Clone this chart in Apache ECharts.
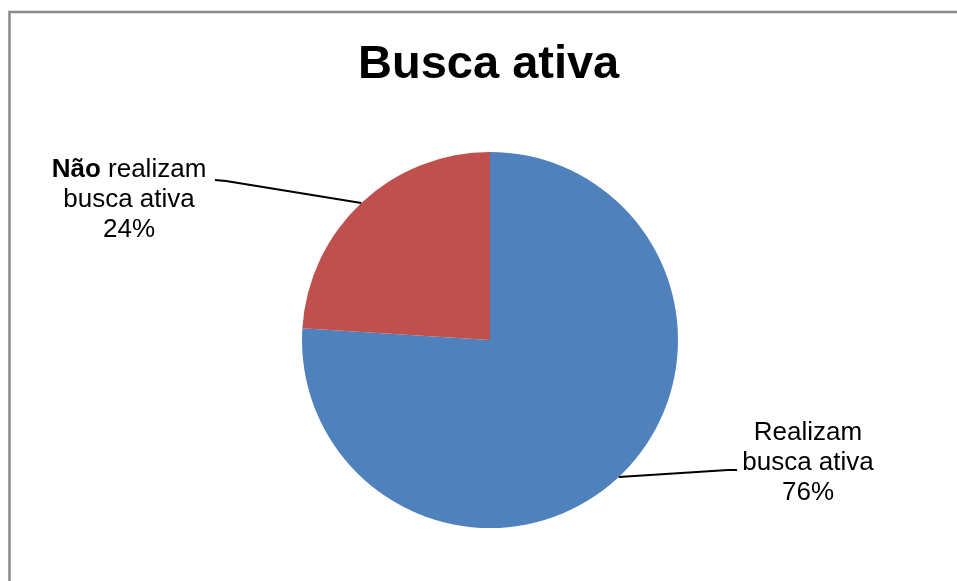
<!DOCTYPE html>
<html>
<head>
<meta charset="utf-8">
<script src="https://cdn.jsdelivr.net/npm/echarts@6/dist/echarts.min.js"></script>
<style>
html,body{margin:0;padding:0;background:#fff;}
#chart{width:957px;height:581px;}
</style>
</head>
<body>
<div id="chart"></div>
<script>
const titleText = 'Busca ativa';
const categories = ['Realizam busca ativa', 'Não realizam busca ativa'];
const values = [76, 24];
const labelTexts = ['Realizam\nbusca ativa\n76%', '{b|Não} realizam\nbusca ativa\n24%'];
const colors = ['#4F81BD', '#C0504D'];

const FONT = "'Liberation Sans', Arial, sans-serif";
const chart = echarts.init(document.getElementById('chart'), null, {renderer: 'canvas'});

// label anchor placement (text centre) and leader end points
const labelPlace = [
  {x: 808, y: 463, end: [[728, 470], [737, 470]]},
  {x: 129, y: 200, end: [[226, 181], [215, 180]]}
];

chart.setOption({
  animation: false,
  backgroundColor: '#ffffff',
  title: {
    text: titleText,
    left: 358,
    top: 42,
    padding: 0,
    textStyle: {fontFamily: FONT, fontSize: 47, fontWeight: 'bold', color: '#000'}
  },
  graphic: [{
    type: 'rect',
    shape: {x: 9.5, y: 12, width: 2000, height: 2000},
    style: {fill: 'none', stroke: '#8a8a8a', lineWidth: 2.5},
    silent: true
  }],
  series: [{
    type: 'pie',
    center: [490, 340],
    radius: 188,
    startAngle: 90,
    clockwise: true,
    itemStyle: {borderWidth: 0},
    data: categories.map((c, i) => ({
      name: c,
      value: values[i],
      itemStyle: {color: colors[i]},
      label: {formatter: labelTexts[i]}
    })),
    label: {
      show: true,
      position: 'outside',
      fontFamily: FONT,
      fontSize: 26,
      lineHeight: 30,
      color: '#000',
      align: 'center',
      rich: {
        b: {fontFamily: FONT, fontSize: 26, fontWeight: 'bold', color: '#000', lineHeight: 30}
      }
    },
    labelLine: {
      show: true,
      lineStyle: {color: '#000', width: 2}
    },
    labelLayout: function (params) {
      const p = labelPlace[params.dataIndex];
      const start = params.labelLinePoints ? params.labelLinePoints[0] : p.end[0];
      return {
        x: p.x,
        y: p.y,
        align: 'center',
        verticalAlign: 'middle',
        labelLinePoints: [start, p.end[0], p.end[1]]
      };
    }
  }]
});
</script>
</body>
</html>
